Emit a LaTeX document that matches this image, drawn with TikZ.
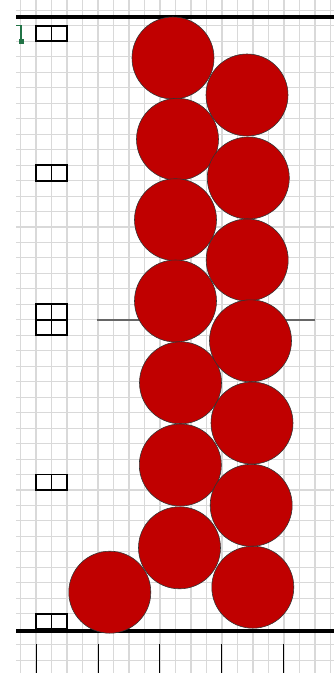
\documentclass[tikz,border=0pt]{standalone}
\usepackage{tikz}
\usetikzlibrary{calc}
\definecolor{ballred}{HTML}{C00000}
\definecolor{gridgray}{HTML}{D9D9D9}
\definecolor{selgreen}{HTML}{217346}

\begin{document}
\begin{tikzpicture}[x=0.03cm, y=-0.03cm,
    ball/.style={draw=black!80, line width=0.5pt, fill=ballred},
    gridline/.style={draw=gridgray, line width=0.9pt},
    rail/.style={draw=black, line width=3.2pt},
    cellbox/.style={draw=black, line width=1.6pt},
    guide/.style={draw=black!60, line width=1.3pt}]
  \useasboundingbox (0,0) rectangle (334,673);
  \fill[white] (0,0) rectangle (334,673);
  \begin{scope}
    \foreach \k in {0,...,20}
      \draw[gridline] ({20.5+15.5*\k},0) -- ({20.5+15.5*\k},673);
    \foreach \k in {0,...,42}
      \draw[gridline] (16,{10.4+15.47*\k}) -- (334,{10.4+15.47*\k});
  \end{scope}
  \draw[selgreen, line width=1.3pt] (16,25.5) -- (21,25.5) -- (21,40);
  \fill[selgreen] (18.5,39) rectangle (23.5,44);
  \draw[cellbox] (36,25.9) rectangle (67,41.3);
  \draw[cellbox] (51.5,25.9) -- (51.5,41.3);
  \draw[cellbox] (36,165.1) rectangle (67,180.6);
  \draw[cellbox] (51.5,165.1) -- (51.5,180.6);
  \draw[cellbox] (36,304.3) rectangle (67,335.3);
  \draw[cellbox] (51.5,304.3) -- (51.5,335.3);
  \draw[cellbox] (36,319.8) -- (67,319.8);
  \draw[cellbox] (36,474.5) rectangle (67,490);
  \draw[cellbox] (51.5,474.5) -- (51.5,490);
  \draw[cellbox] (36,613.7) rectangle (67,629.2);
  \draw[cellbox] (51.5,613.7) -- (51.5,629.2);
  \draw[guide] (97,319.8) -- (140,319.8);
  \draw[guide] (282,319.8) -- (315,319.8);
  \foreach \x in {36,98,159.5,221.5,283.5}
    \draw[black, line width=0.7pt] (\x,644) -- (\x,673);
  \draw[rail] (16,16.7) -- (334,16.7);
  \draw[rail] (16,631) -- (334,631);
  \foreach \p in {(173,58),(177.5,139.3),(175.5,219.7),(175.5,301),
                  (180.5,382.8),(180.3,465),(179.5,547.8)}
    \draw[ball] \p circle[radius=1.23cm];
  \foreach \p in {(247,95),(248.3,178),(247.2,260),(250.5,340.8),
                  (252,423),(251.2,505.3),(252.8,587.2)}
    \draw[ball] \p circle[radius=1.23cm];
  \draw[ball] (109.8,592.2) circle[radius=1.23cm];
\end{tikzpicture}
\end{document}
